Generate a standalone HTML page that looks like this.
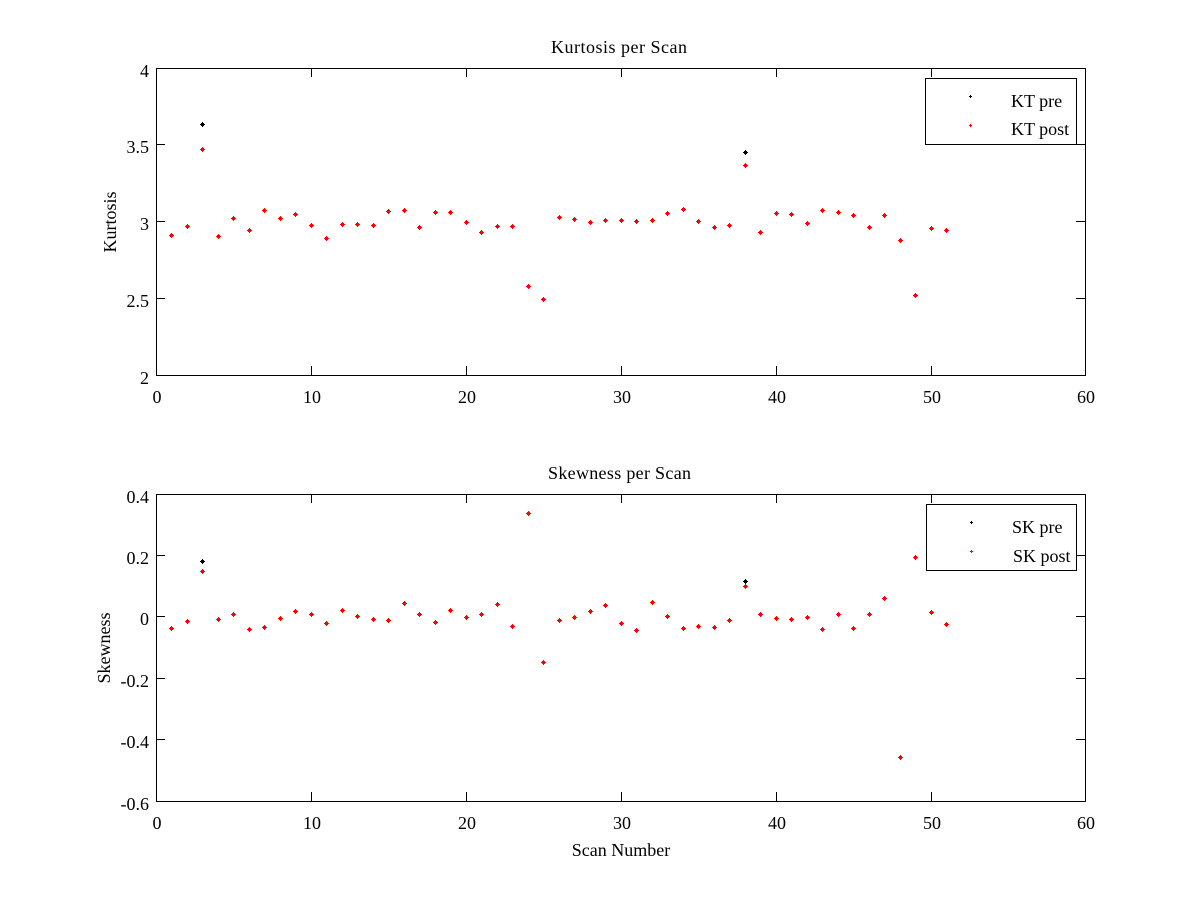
<!DOCTYPE html>
<html>
<head>
<meta charset="utf-8">
<style>
html,body{margin:0;padding:0;background:#fff;}
svg{display:block;}
text{font-family:"Liberation Serif","DejaVu Serif",serif;font-size:18px;fill:#000;}
</style>
</head>
<body>
<svg width="1200" height="900" viewBox="0 0 1200 900" xmlns="http://www.w3.org/2000/svg" shape-rendering="crispEdges">
<defs>
<marker id="mr" markerUnits="userSpaceOnUse" markerWidth="8" markerHeight="8" refX="0" refY="0" overflow="visible"><path fill="#f00" d="M-2,0h5v1h-5z M0,-2h1v5h-1z M-1,-1h3v3h-3z"/></marker>
<marker id="mk" markerUnits="userSpaceOnUse" markerWidth="8" markerHeight="8" refX="0" refY="0" overflow="visible"><path fill="#000" d="M-2,0h5v1h-5z M0,-2h1v5h-1z M-1,-1h3v3h-3z"/></marker>
</defs>
<rect width="1200" height="900" fill="#fff"/>

<!-- Top axes frame and ticks -->
<path fill="none" stroke="#000" stroke-width="1" d="M156.5,68.5H1085.5V375.5H156.5Z M311.5,68v9 M466.5,68v9 M621.5,68v9 M776.5,68v9 M931.5,68v9 M311.5,375v-9 M466.5,375v-9 M621.5,375v-9 M776.5,375v-9 M931.5,375v-9 M156,144.5h9 M156,221.5h9 M156,298.5h9 M1085,144.5h-9 M1085,221.5h-9 M1085,298.5h-9"/>
<g text-anchor="end">
<text x="149" y="77">4</text>
<text x="149" y="153">3.5</text>
<text x="149" y="230">3</text>
<text x="149" y="307">2.5</text>
<text x="149" y="384">2</text>
</g>
<g text-anchor="middle">
<text x="157" y="403">0</text>
<text x="312" y="403">10</text>
<text x="467" y="403">20</text>
<text x="622" y="403">30</text>
<text x="777" y="403">40</text>
<text x="932" y="403">50</text>
<text x="1086" y="403">60</text>
</g>
<text x="551" y="53" textLength="136">Kurtosis per Scan</text>
<text transform="translate(116,222) rotate(-90)" text-anchor="middle">Kurtosis</text>

<polyline fill="none" stroke="none" marker-start="url(#mk)" marker-end="url(#mk)" points="202,124 745,152"/>
<polyline fill="none" stroke="none" marker-start="url(#mr)" marker-mid="url(#mr)" marker-end="url(#mr)" points="171,235 187,226 202,149 218,236 233,218 249,230 264,210 280,218 295,214 311,225 326,238 342,224 357,224 373,225 388,211 404,210 419,227 435,212 450,212 466,222 481,232 497,226 512,226 528,286 543,299 559,217 574,219 590,222 605,220 621,220 636,221 652,220 667,213 683,209 698,221 714,227 729,225 745,165 760,232 776,213 791,214 807,223 822,210 838,212 853,215 869,227 884,215 900,240 915,295 931,228 946,230"/>

<rect x="925.5" y="78.5" width="151" height="66" fill="#fff" stroke="#000" stroke-width="1"/>
<path fill="#000" d="M969,96h3v1h-3z M970,95h1v3h-1z"/>
<path fill="#f00" d="M969,125h3v1h-3z M970,124h1v3h-1z"/>
<text x="1011" y="107">KT pre</text>
<text x="1011" y="135">KT post</text>

<!-- Bottom axes frame and ticks -->
<path fill="none" stroke="#000" stroke-width="1" d="M156.5,494.5H1085.5V801.5H156.5Z M311.5,494v9 M466.5,494v9 M621.5,494v9 M776.5,494v9 M931.5,494v9 M311.5,801v-9 M466.5,801v-9 M621.5,801v-9 M776.5,801v-9 M931.5,801v-9 M156,555.5h9 M156,616.5h9 M156,678.5h9 M156,739.5h9 M1085,555.5h-9 M1085,616.5h-9 M1085,678.5h-9 M1085,739.5h-9"/>
<g text-anchor="end">
<text x="149" y="503">0.4</text>
<text x="149" y="564">0.2</text>
<text x="149" y="625">0</text>
<text x="149" y="687">-0.2</text>
<text x="149" y="748">-0.4</text>
<text x="149" y="810">-0.6</text>
</g>
<g text-anchor="middle">
<text x="157" y="829">0</text>
<text x="312" y="829">10</text>
<text x="467" y="829">20</text>
<text x="622" y="829">30</text>
<text x="777" y="829">40</text>
<text x="932" y="829">50</text>
<text x="1086" y="829">60</text>
</g>
<text x="548" y="479" textLength="143">Skewness per Scan</text>
<text x="621" y="856" text-anchor="middle">Scan Number</text>
<text transform="translate(110,648) rotate(-90)" text-anchor="middle">Skewness</text>

<polyline fill="none" stroke="none" marker-start="url(#mk)" marker-end="url(#mk)" points="202,561 745,581"/>
<polyline fill="none" stroke="none" marker-start="url(#mr)" marker-mid="url(#mr)" marker-end="url(#mr)" points="171,628 187,621 202,571 218,619 233,614 249,629 264,627 280,618 295,611 311,614 326,623 342,610 357,616 373,619 388,620 404,603 419,614 435,622 450,610 466,617 481,614 497,604 512,626 528,513 543,662 559,620 574,617 590,611 605,605 621,623 636,630 652,602 667,616 683,628 698,626 714,627 729,620 745,586 760,614 776,618 791,619 807,617 822,629 838,614 853,628 869,614 884,598 900,757 915,557 931,612 946,624"/>

<rect x="926.5" y="504.5" width="150" height="66" fill="#fff" stroke="#000" stroke-width="1"/>
<path fill="#000" d="M970,522h3v1h-3z M971,521h1v3h-1z"/>
<path fill="#f00" d="M970,551h3v1h-3z M971,550h1v3h-1z"/>
<text x="1012" y="533">SK pre</text>
<text x="1013" y="562">SK post</text>
</svg>
</body>
</html>
